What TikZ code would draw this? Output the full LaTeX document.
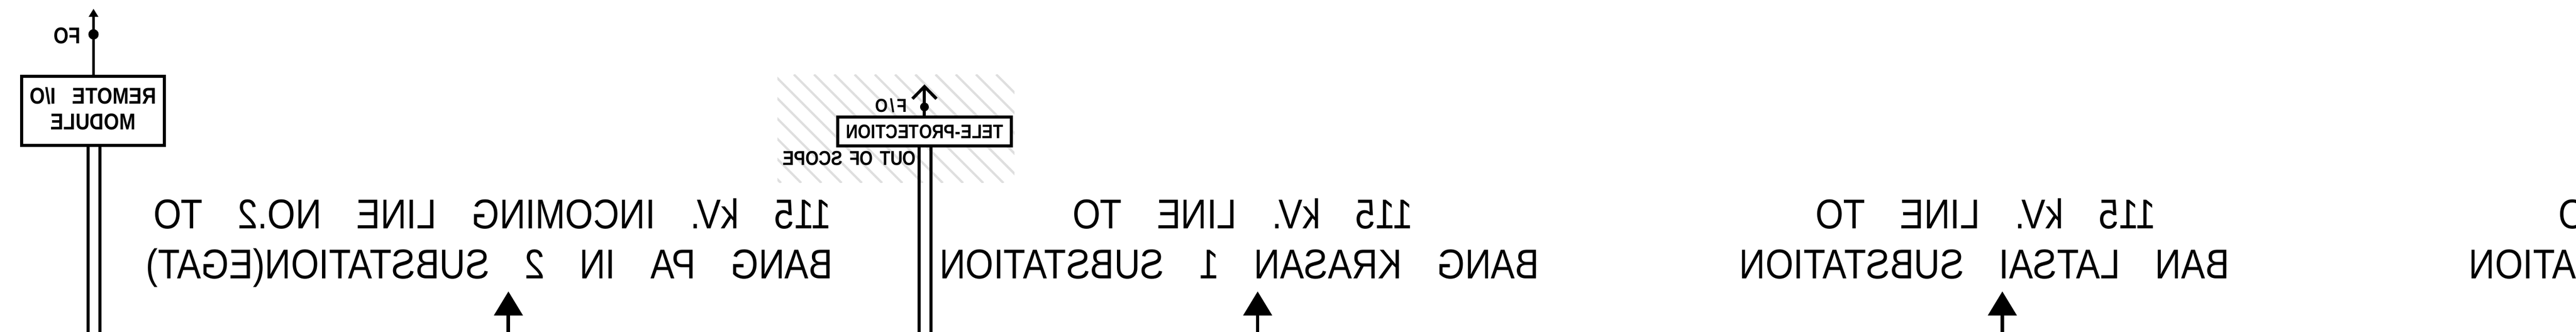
\documentclass[tikz,border=0pt]{standalone}
\usepackage{fontspec}
\newfontfamily\cadfont[FakeStretch=0.865,WordSpace=3.5]{Liberation Sans}
\newfontfamily\cadbold[FakeStretch=0.85,WordSpace=1.4,UprightFont=* Bold]{Liberation Sans}
\newfontfamily\cadboldwide[FakeStretch=0.86,WordSpace=3.0,UprightFont=* Bold]{Liberation Sans}
\newfontfamily\cadboldopen[FakeStretch=0.87,LetterSpace=12,UprightFont=* Bold]{Liberation Sans}
\usetikzlibrary{arrows.meta}
\tikzset{mirrored/.style={xscale=-1, transform shape}}
\tikzset{titleline/.style={mirrored, anchor=base, inner sep=0pt, font=\cadfont\fontsize{31}{31}\selectfont}}
\tikzset{smallline/.style={mirrored, anchor=base, inner sep=0pt, font=\cadbold\fontsize{15}{15}\selectfont}}
\tikzset{cabinet/.style={mirrored, draw, line width=0.08cm, fill=white, align=center, inner sep=0pt}}
\tikzset{fibre/.style={line width=0.08cm}}
\tikzset{feeder/.style={line width=0.09cm, -{Triangle[length=0.63cm, width=0.74cm]}}}
\tikzset{joint/.style={circle, fill=black, inner sep=0pt}}
\tikzset{hatchline/.style={line width=0.06cm, gray!25}}

\begin{document}
\begin{tikzpicture}
\useasboundingbox (0, 0) rectangle (67.49, -8.69);
\clip (0, 0) rectangle (67.49, -8.69);

% out of scope hatching
\begin{scope}
\clip (20.37, -1.95) rectangle (26.58, -4.79);
\draw[hatchline] (17.62, -1.95) -- ++(2.84, -2.84);
\draw[hatchline] (18.15, -1.95) -- ++(2.84, -2.84);
\draw[hatchline] (18.68, -1.95) -- ++(2.84, -2.84);
\draw[hatchline] (19.21, -1.95) -- ++(2.84, -2.84);
\draw[hatchline] (19.74, -1.95) -- ++(2.84, -2.84);
\draw[hatchline] (20.27, -1.95) -- ++(2.84, -2.84);
\draw[hatchline] (20.80, -1.95) -- ++(2.84, -2.84);
\draw[hatchline] (21.33, -1.95) -- ++(2.84, -2.84);
\draw[hatchline] (21.86, -1.95) -- ++(2.84, -2.84);
\draw[hatchline] (22.39, -1.95) -- ++(2.84, -2.84);
\draw[hatchline] (22.92, -1.95) -- ++(2.84, -2.84);
\draw[hatchline] (23.45, -1.95) -- ++(2.84, -2.84);
\draw[hatchline] (23.98, -1.95) -- ++(2.84, -2.84);
\draw[hatchline] (24.51, -1.95) -- ++(2.84, -2.84);
\draw[hatchline] (25.04, -1.95) -- ++(2.84, -2.84);
\draw[hatchline] (25.57, -1.95) -- ++(2.84, -2.84);
\draw[hatchline] (26.10, -1.95) -- ++(2.84, -2.84);
\end{scope}

\node[cabinet, minimum width=3.74cm, minimum height=1.81cm, text depth=0.12cm, font=\cadboldwide\fontsize{17}{19.3}\selectfont] (remoteBox) at (2.44, -2.905) {REMOTE I/O\\MODULE};
\node[cabinet, minimum width=4.55cm, minimum height=0.75cm, font=\cadbold\fontsize{14.6}{14.6}\selectfont] (teleBox) at (24.225, -3.445) {TELE-PROTECTION};

\node[smallline, font=\cadbold\fontsize{17}{17}\selectfont] (foLabel) at (1.765, -1.14) {FO};
\node[smallline, font=\cadboldopen\fontsize{14}{14}\selectfont] (teleFoLabel) at (23.35, -2.94) {F/O};
\node[smallline] (scopeLabel) at (22.255, -4.32) {OUT OF SCOPE};

\node[titleline] (lineAtop) at (12.90, -5.99) {115 kV. INCOMING LINE NO.2 TO};
\node[titleline] (lineAbot) at (12.82, -7.29) {BANG PA IN 2 SUBSTATION(EGAT)};
\node[titleline] (lineBtop) at (32.56, -5.99) {115 kV. LINE TO};
\node[titleline] (lineBbot) at (32.47, -7.29) {BANG KRASAN 1 SUBSTATION};
\node[titleline] (lineCtop) at (52.03, -5.99) {115 kV. LINE TO};
\node[titleline] (lineCbot) at (51.99, -7.29) {BAN LATSAI SUBSTATION};
\node[titleline, anchor=base east] (lineDtop) at (67.02, -5.99) {O};
\node[titleline, anchor=base east] (lineDbot) at (64.68, -7.29) {ATION};

\coordinate (foTip) at (2.45, -0.23);
\coordinate (teleTip) at (24.22, -2.21);
\coordinate (remoteEndL) at (2.31, -8.69);
\coordinate (remoteEndR) at (2.62, -8.69);
\coordinate (teleEndL) at (24.08, -8.69);
\coordinate (teleEndR) at (24.39, -8.69);
\coordinate (feedA) at (13.32, -8.69);
\coordinate (feedAtip) at (13.32, -7.63);
\coordinate (feedB) at (32.95, -8.69);
\coordinate (feedBtip) at (32.95, -7.63);
\coordinate (feedC) at (52.46, -8.69);
\coordinate (feedCtip) at (52.46, -7.63);

\node[joint, minimum size=0.27cm] (foDot) at (2.45, -0.90) {};
\node[joint, minimum size=0.23cm] (teleDot) at (24.22, -2.80) {};

\draw[fibre, -{Triangle[length=0.21cm, width=0.24cm]}] (remoteBox.north -| foTip) to (foTip);
\draw[fibre, -{Straight Barb[length=0.32cm, width=0.63cm]}] (teleBox.north -| teleTip) to (teleTip);

\draw[fibre] (remoteBox.south -| remoteEndL) to (remoteEndL);
\draw[fibre] (remoteBox.south -| remoteEndR) to (remoteEndR);
\draw[fibre] (teleBox.south -| teleEndL) to (teleEndL);
\draw[fibre] (teleBox.south -| teleEndR) to (teleEndR);

\draw[feeder] (feedA) to (feedAtip);
\draw[feeder] (feedB) to (feedBtip);
\draw[feeder] (feedC) to (feedCtip);

\end{tikzpicture}
\end{document}
